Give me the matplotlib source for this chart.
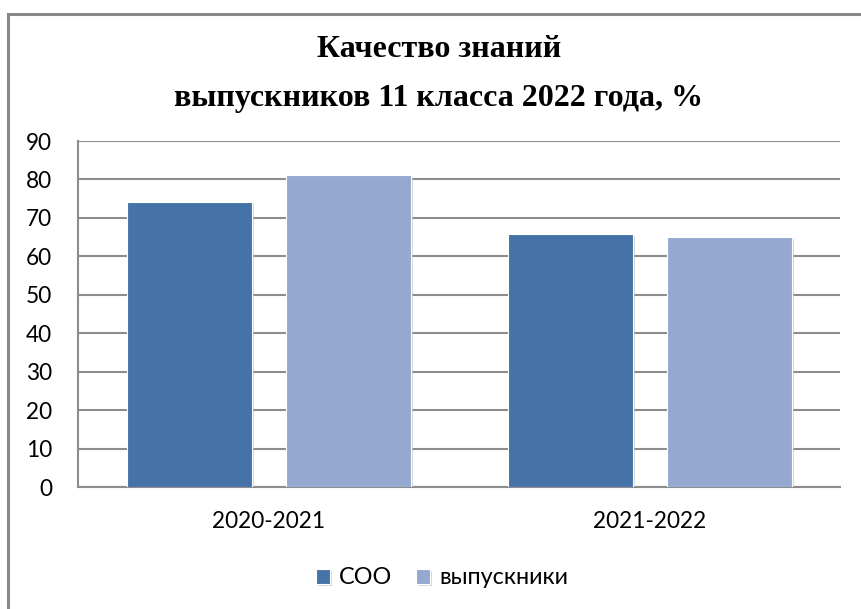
import matplotlib.pyplot as plt
import matplotlib.patheffects as pe
import numpy as np
from matplotlib.patches import Rectangle

# data
years = ["2020-2021", "2021-2022"]
soo = [74.2, 65.8]
graduates = [81.2, 65.0]
series_names = ["СОО", "выпускники"]
y_ticks = [0, 10, 20, 30, 40, 50, 60, 70, 80, 90]
title = "Качество знаний\nвыпускников 11 класса 2022 года, %"

COLORS = ["#4573A7", "#94A8D0"]
GRID = "#8C8C8C"
W, H = 862, 609

fig = plt.figure(figsize=(W / 100, H / 100), dpi=100)
fig.patch.set_facecolor("white")

# outer chart frame (cropped at right and bottom in the reference)
fig.patches.append(
    Rectangle((8.5 / W, -0.05), 1.2, 1.05 - 13.5 / H, transform=fig.transFigure,
              fill=False, edgecolor="#888888", linewidth=2.2)
)

ax = fig.add_axes([78 / W, 1 - 487 / H, (840.5 - 78) / W, (487 - 141) / H])
x = np.arange(len(years))
bw = 0.328
off = (bw + 0.089) / 2
shadow = [pe.SimplePatchShadow(offset=(1.5, -1.5), shadow_rgbFace="#bbbbbb", alpha=0.6), pe.Normal()]
b1 = ax.bar(x - off, soo, bw, color=COLORS[0], label=series_names[0], zorder=3,
            edgecolor="white", linewidth=0.8)
b2 = ax.bar(x + off, graduates, bw, color=COLORS[1], label=series_names[1], zorder=3,
            edgecolor="white", linewidth=0.8)
for bars in (b1, b2):
    for p in bars:
        p.set_path_effects(shadow)

ax.set_xlim(-0.5, 1.5)
ax.set_ylim(0, 90)
ax.set_yticks(y_ticks)
ax.set_xticks(x)
ax.set_xticklabels(years)
ax.yaxis.grid(True, color=GRID, linewidth=1.5, zorder=0)
ax.set_axisbelow(True)
for s in ("top", "right"):
    ax.spines[s].set_visible(False)
for s in ("left", "bottom"):
    ax.spines[s].set_color(GRID)
    ax.spines[s].set_linewidth(1.5)
ax.tick_params(axis="both", length=0, labelsize=16.3, colors="black")
ax.tick_params(axis="y", pad=18.5)
ax.tick_params(axis="x", pad=17)
for lbl in ax.get_xticklabels() + ax.get_yticklabels():
    lbl.set_family("Lato")

fig.text(439 / W, 1 - 74 / H, title, ha="center", va="center", fontsize=23,
         fontweight="bold", family="Liberation Serif", linespacing=1.9)

ax.legend(loc="center", bbox_to_anchor=(442 / W, 1 - 578 / H), bbox_transform=fig.transFigure,
          ncol=2, frameon=False, prop={"family": "Lato", "size": 16.8},
          handlelength=0.6, handleheight=0.6, handletextpad=0.4, columnspacing=1.0)

fig.savefig("out.png", dpi=100)
